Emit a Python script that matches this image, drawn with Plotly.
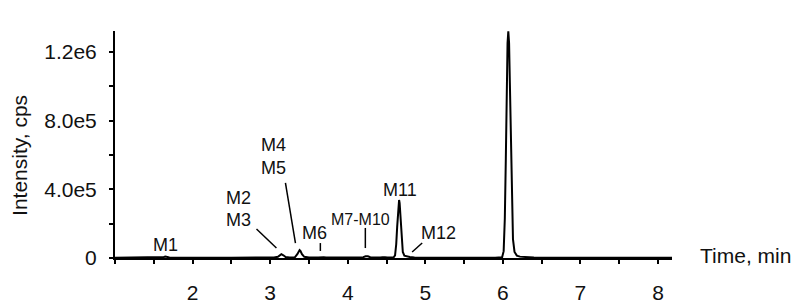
import plotly.graph_objects as go

# Chromatogram trace (time in min, intensity in cps)
time_min = [1.00, 1.50, 1.60, 1.63, 1.65, 1.67, 1.70, 2.50, 3.05, 3.10, 3.12, 3.145,
            3.17, 3.20, 3.25, 3.32, 3.35, 3.37, 3.38, 3.39, 3.41, 3.44, 3.50, 3.62,
            3.65, 3.67, 3.69, 3.72, 4.15, 4.20, 4.23, 4.245, 4.26, 4.29, 4.35, 4.42,
            4.45, 4.465, 4.48, 4.51, 4.59, 4.61, 4.625, 4.637, 4.648, 4.655, 4.662,
            4.669, 4.677, 4.687, 4.697, 4.71, 4.73, 4.76, 4.80, 4.86, 5.00, 5.90,
            5.99, 6.01, 6.025, 6.038, 6.05, 6.06, 6.07, 6.08, 6.09, 6.102, 6.115,
            6.13, 6.15, 6.18, 6.22, 6.30, 6.40, 7.00, 8.18]
intensity = [2000, 2000, 2500, 6000, 9000, 6000, 2500, 2000, 2500, 7000, 16000, 22000,
             16000, 6000, 3000, 5000, 22000, 42000, 46000, 42000, 22000, 7000, 3000, 2500,
             5000, 7000, 5000, 2500, 2500, 5000, 10000, 12000, 10000, 4500, 2500, 2500,
             5000, 7000, 5000, 2500, 3000, 15000, 80000, 180000, 280000, 325000, 338000,
             320000, 260000, 170000, 90000, 35000, 14000, 9000, 6000, 3000, 2000, 2000,
             4000, 40000, 230000, 580000, 1000000, 1250000, 1320000, 1250000, 1020000, 660000, 330000,
             110000, 35000, 14000, 8000, 5000, 2500, 2000, 2000]

# Peak labels: text, x (min), y (cps), font size
label_text = ["M1", "M2", "M3", "M4", "M5", "M6", "M7-M10", "M11", "M12", "M13"]
label_x = [1.65, 2.59, 2.59, 3.04, 3.04, 3.57, 4.16, 4.68, 5.17, 6.07]
label_y = [75700, 349500, 221000, 658000, 524000, 145600, 227000, 396000, 145600, 1415000]
label_size = [18, 18, 18, 18, 18, 18, 16, 18, 18, 18]

# Leader lines: (x0, y0, x1, y1)
leader_x0 = [2.824, 3.197, 3.647, 4.227, 4.83]
leader_y0 = [169000, 437000, 87000, 175000, 35000]
leader_x1 = [3.081, 3.326, 3.647, 4.227, 4.96]
leader_y1 = [58000, 87000, 41000, 58000, 87000]

y_tickvals = [0, 400000, 800000, 1200000]
y_ticktext = ["0", "4.0e5", "8.0e5", "1.2e6"]
x_tickvals = [2, 3, 4, 5, 6, 7, 8]

FONT = "Liberation Sans, Arial, sans-serif"
INK = "#111111"

fig = go.Figure()
fig.add_trace(go.Scatter(x=time_min, y=intensity, mode="lines",
                         line=dict(color="black", width=2), hoverinfo="skip",
                         showlegend=False))

for t, x, y, s in zip(label_text, label_x, label_y, label_size):
    fig.add_annotation(x=x, y=y, xref="x", yref="y", text=t, showarrow=False,
                       font=dict(family=FONT, size=s, color=INK),
                       xanchor="center", yanchor="middle")

for x0, y0, x1, y1 in zip(leader_x0, leader_y0, leader_x1, leader_y1):
    fig.add_shape(type="line", xref="x", yref="y", x0=x0, y0=y0, x1=x1, y1=y1,
                  line=dict(color="black", width=1.5))

fig.add_annotation(xref="paper", yref="paper", x=1.047, y=0.013, text="Time, min",
                   showarrow=False, xanchor="left", yanchor="middle",
                   font=dict(family=FONT, size=21, color=INK))
fig.add_annotation(xref="paper", yref="paper", x=-0.1706, y=0.454, text="Intensity, cps",
                   showarrow=False, xanchor="center", yanchor="middle", textangle=-90,
                   font=dict(family=FONT, size=21, color=INK))

# page body adds an 8px offset, so the figure is 8px smaller and margins shifted
fig.update_layout(
    width=792, height=298,
    margin=dict(l=107, r=128, t=23, b=48, autoexpand=False),
    paper_bgcolor="white", plot_bgcolor="white",
    font=dict(family=FONT, size=21, color=INK),
    xaxis=dict(range=[1.0, 8.18], tickvals=x_tickvals, showgrid=False, zeroline=False,
               automargin=False,
               showline=True, linecolor="black", linewidth=2,
               ticks="outside", ticklen=4, tickwidth=1.5, tickcolor="black",
               ticklabelstandoff=11,
               minor=dict(dtick=0.5, ticks="outside", ticklen=4, tickwidth=1.5,
                          tickcolor="black", showgrid=False)),
    yaxis=dict(range=[0, 1322000], tickvals=y_tickvals, ticktext=y_ticktext,
               showgrid=False, zeroline=False, automargin=False,
               showline=True, linecolor="black", linewidth=2,
               ticks="outside", ticklen=4, tickwidth=1.5, tickcolor="black",
               ticklabelstandoff=8,
               minor=dict(tickvals=[200000, 600000, 1000000], ticks="outside", ticklen=4,
                          tickwidth=1.5, tickcolor="black", showgrid=False)),
)

fig.write_html("out.html")
